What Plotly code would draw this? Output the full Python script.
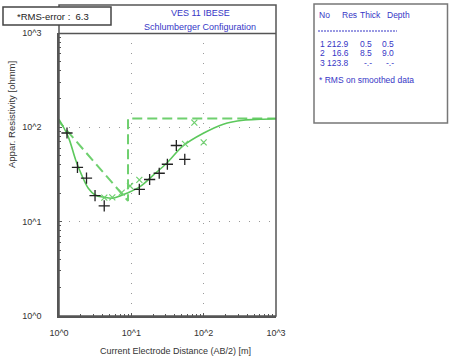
import plotly.graph_objects as go

# ---------------- data ----------------
ab2_obs = [1.29, 1.80, 2.40, 3.15, 4.22, 12.9, 17.9, 24.3, 31.5, 41.9, 54.8]
rho_obs = [87.1, 37.7, 29.0, 18.9, 14.7, 22.0, 28.0, 32.6, 40.6, 64.2, 45.8]

ab2_smooth = [4.23, 5.46, 7.36, 9.59, 12.9, 55.2, 74.3, 100]
rho_smooth = [18.0, 18.1, 20.3, 23.9, 27.7, 66.9, 112, 69.4]

ab2_curve = [1.0, 1.34, 1.70, 2.06, 2.54, 3.15, 4.23, 5.46, 6.97, 8.63, 13.2,
             20.1, 30.8, 52.3, 98.9, 187, 353, 608, 1000]
rho_curve = [121.7, 79.6, 45.1, 31.2, 22.6, 19.2, 18.1, 17.7, 18.7, 20.0, 23.5,
             31.2, 41.6, 63.9, 86.5, 108, 119, 122, 123.5]

layer_no = [1, 2, 3]
layer_res = [212.9, 16.6, 123.8]
layer_thick = [0.5, 8.5]
layer_depth = [0.5, 9.0]

rms_error = 6.3
title_lines = ["VES 11 IBESE", "Schlumberger Configuration"]
x_ticks = [1, 10, 100, 1000]
x_ticktext = ["10^0", "10^1", "10^2", "10^3"]
y_ticks = [1, 10, 100, 1000]
y_ticktext = ["10^0", "10^1", "10^2", "10^3"]

# model step line built from the layer table
model_x = [layer_depth[0], layer_depth[1], layer_depth[1], 1000]
model_y = [layer_res[0], layer_res[1], layer_res[2], layer_res[2]]

# ---------------- layout geometry ----------------
W, H = 449, 361
L, R, T, B = 59, 173, 33, 45
PW, PH = W - L - R, H - T - B


def px(x):
    return (x - L) / PW


def py(y):
    return (H - B - y) / PH


BLUE = "#3636c6"
GREEN = "#5cc85c"
FONT = "Liberation Sans, Arial"

minor_vals = [m * 10 ** d for d in range(3) for m in range(2, 10)]

fig = go.Figure()

fig.add_trace(go.Scatter(x=model_x, y=model_y, mode="lines",
                         line=dict(color="#6fd06f", width=2, dash="10px,5px"),
                         showlegend=False))
fig.add_trace(go.Scatter(x=ab2_curve, y=rho_curve, mode="lines",
                         line=dict(color=GREEN, width=1.6, shape="spline"),
                         showlegend=False))
fig.add_trace(go.Scatter(x=ab2_smooth, y=rho_smooth, mode="markers",
                         marker=dict(symbol="x-thin", size=6,
                                     line=dict(color="#6fd06f", width=1.2)),
                         showlegend=False))
fig.add_trace(go.Scatter(x=ab2_obs, y=rho_obs, mode="markers",
                         marker=dict(symbol="cross-thin", size=8,
                                     line=dict(color="#222222", width=1.3)),
                         showlegend=False))

axis_common = dict(
    type="log", range=[0, 3],
    showline=True, linecolor="#555555", linewidth=1.5,
    ticks="inside", ticklen=3, tickcolor="#555555", tickwidth=1,
    showgrid=True, gridcolor="#999999", gridwidth=1.3, griddash="1px,9px",
    zeroline=False,
    tickfont=dict(family=FONT, size=9, color="#333333"),
    minor=dict(tickvals=minor_vals, ticks="inside", ticklen=2,
               tickcolor="#555555", showgrid=False),
)

fig.update_xaxes(**axis_common, tickvals=x_ticks, ticktext=x_ticktext,
                 ticklabelstandoff=7)
fig.update_yaxes(**axis_common, tickvals=y_ticks, ticktext=y_ticktext,
                 ticklabelstandoff=14)

shapes = []
# outer frame including title band
shapes.append(dict(type="rect", xref="paper", yref="paper",
                   x0=px(59), x1=px(276), y0=py(316), y1=py(5),
                   line=dict(color="#555555", width=1.5)))
shapes.append(dict(type="line", xref="paper", yref="paper",
                   x0=px(59), x1=px(276), y0=py(33.5), y1=py(33.5),
                   line=dict(color="#555555", width=1.5)))
# RMS box
shapes.append(dict(type="rect", xref="paper", yref="paper",
                   x0=px(3), x1=px(111), y0=py(25), y1=py(7),
                   fillcolor="white", line=dict(color="#444444", width=1.5),
                   layer="above"))
# table box
shapes.append(dict(type="rect", xref="paper", yref="paper",
                   x0=px(314), x1=px(447.5), y0=py(123), y1=py(4),
                   fillcolor="white", line=dict(color="#777777", width=1.5)))
shapes.append(dict(type="line", xref="paper", yref="paper",
                   x0=px(318), x1=px(397), y0=py(31), y1=py(31),
                   line=dict(color=BLUE, width=1, dash="2px,1px")))

ann = []


def text(x, y, s, size=8.5, color=BLUE, anchor="center", angle=0):
    ann.append(dict(xref="paper", yref="paper", x=px(x), y=py(y), text=s,
                    showarrow=False, xanchor=anchor, yanchor="middle",
                    textangle=angle,
                    font=dict(family=FONT, size=size, color=color)))


text(200, 13, title_lines[0], size=9)
text(200, 27, title_lines[1], size=9)
text(53, 16, f"*RMS-error :  {rms_error}", size=9.5, color="#222222")

# table
text(317, 15, "No", anchor="left")
text(340, 15, "Res", anchor="left")
text(358, 15, "Thick", anchor="left")
text(385, 15, "Depth", anchor="left")
row_y = [43.5, 53.3, 63]
for i, n in enumerate(layer_no):
    text(318, row_y[i], str(n), anchor="left")
    text(351, row_y[i], f"{layer_res[i]:.1f}", anchor="right")
    if i < len(layer_thick):
        text(374, row_y[i], f"{layer_thick[i]:.1f}", anchor="right")
        text(396, row_y[i], f"{layer_depth[i]:.1f}", anchor="right")
    else:
        text(374, row_y[i], "-.-", anchor="right")
        text(396, row_y[i], "-.-", anchor="right")
text(317, 80, "* RMS on smoothed data", anchor="left")

# axis titles
text(175, 350.5, "Current Electrode Distance (AB/2) [m]", size=9,
     color="#333333")
text(12, 115, "Appar. Resistivity [ohmm]", size=9.5, color="#333333",
     angle=-90)

fig.update_layout(
    width=W, height=H,
    margin=dict(l=L, r=R, t=T, b=B, pad=0),
    paper_bgcolor="white", plot_bgcolor="white",
    shapes=shapes, annotations=ann, showlegend=False,
)

fig.write_html("out.html")
